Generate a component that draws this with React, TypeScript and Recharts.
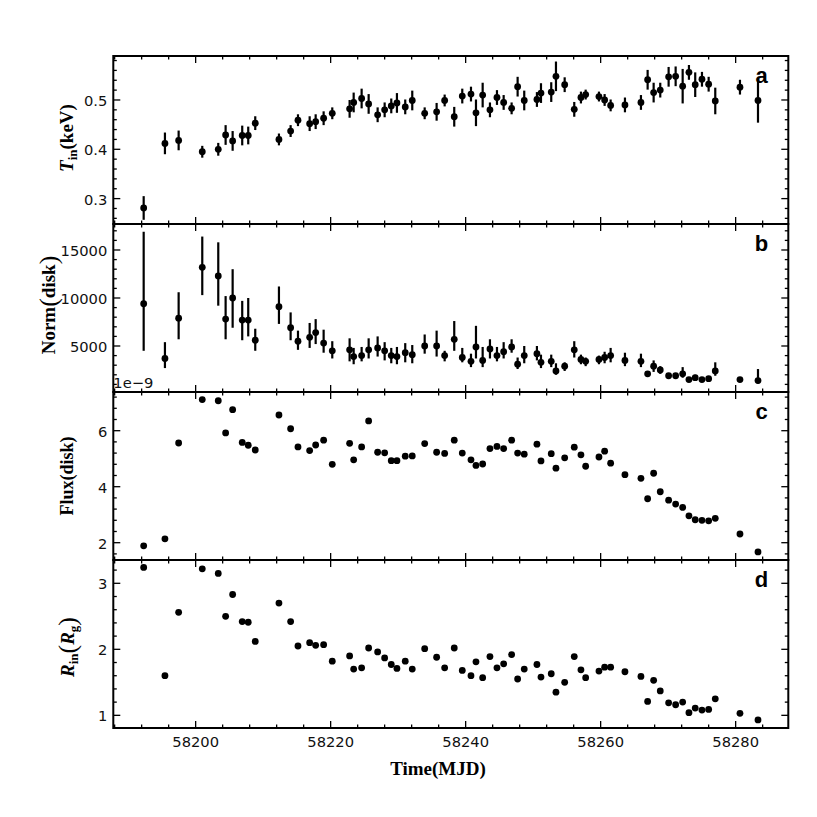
import React from 'react';
import { ScatterChart, Scatter, XAxis, YAxis, ErrorBar, ReferenceArea } from 'recharts';

// ---------------- data ----------------
const mjd = [
  58192.3, 58195.45, 58197.48, 58200.98, 58203.35, 58204.44, 58205.48, 58206.9, 58207.79, 58208.83,
  58212.34, 58214.07, 58215.16, 58216.89, 58217.78, 58218.96, 58220.24, 58222.81, 58223.41, 58224.59,
  58225.63, 58226.96, 58228.0, 58228.98, 58229.82, 58231.05, 58232.09, 58233.93, 58235.7, 58236.89,
  58238.31, 58239.5, 58240.79, 58241.53, 58242.52, 58243.6, 58244.64, 58245.63, 58246.81, 58247.7,
  58248.68, 58250.56, 58251.16, 58252.68, 58253.38, 58254.67, 58256.09, 58257.08, 58257.78, 58259.75,
  58260.59, 58261.48, 58263.6, 58265.97, 58266.96, 58267.85, 58268.83, 58270.07, 58271.11, 58272.15,
  58273.08, 58274.01, 58275.01, 58276.0, 58276.98, 58280.64, 58283.31,
];

const tin = [
  0.281, 0.412, 0.418, 0.395, 0.4, 0.429, 0.417, 0.428, 0.428, 0.453,
  0.42, 0.437, 0.459, 0.452, 0.456, 0.463, 0.473, 0.482, 0.495, 0.503,
  0.492, 0.47, 0.48, 0.488, 0.494, 0.486, 0.499, 0.473, 0.476, 0.499,
  0.466, 0.508, 0.512, 0.474, 0.51, 0.48, 0.505, 0.495, 0.483, 0.527,
  0.499, 0.501, 0.514, 0.516, 0.548, 0.531, 0.481, 0.505, 0.511, 0.507,
  0.5, 0.489, 0.49, 0.495, 0.541, 0.515, 0.52, 0.547, 0.548, 0.528,
  0.556, 0.531, 0.542, 0.532, 0.498, 0.526, 0.499,
];

const tinErr = [
  0.024, 0.022, 0.02, 0.012, 0.013, 0.02, 0.02, 0.02, 0.018, 0.014,
  0.012, 0.012, 0.012, 0.015, 0.015, 0.014, 0.012, 0.018, 0.02, 0.02,
  0.02, 0.015, 0.015, 0.015, 0.02, 0.015, 0.02, 0.012, 0.018, 0.012,
  0.02, 0.015, 0.015, 0.027, 0.025, 0.015, 0.015, 0.015, 0.012, 0.02,
  0.02, 0.015, 0.02, 0.02, 0.03, 0.015, 0.015, 0.012, 0.01, 0.01,
  0.012, 0.012, 0.015, 0.015, 0.02, 0.02, 0.015, 0.02, 0.02, 0.035,
  0.015, 0.025, 0.015, 0.015, 0.027, 0.015, 0.045,
];

const norm = [
  9400, 3700, 7900, 13200, 12300, 7800, 10000, 7700, 7700, 5600,
  9100, 6900, 5500, 5900, 6400, 5300, 4500, 4600, 3900, 4000,
  4600, 4800, 4500, 4000, 3900, 4300, 4100, 5000, 5000, 4000,
  5700, 3800, 3400, 4900, 3500, 4700, 4000, 4400, 4900, 3100,
  4000, 4200, 3300, 3400, 2400, 2900, 4600, 3600, 3400, 3600,
  3800, 4000, 3500, 3400, 2100, 2900, 2500, 1900, 1900, 2100,
  1500, 1700, 1500, 1600, 2400, 1500, 1400,
];

const normLo = [
  4500, 2700, 5700, 10300, 9200, 5700, 6900, 5600, 6000, 4500,
  7300, 5600, 4600, 4800, 5200, 4300, 3700, 3400, 3100, 3400,
  3700, 3900, 3500, 3200, 3100, 3300, 3200, 4200, 3900, 3400,
  4500, 3300, 2800, 3700, 2800, 3700, 3400, 3700, 4300, 2600,
  3200, 3500, 2700, 2800, 2000, 2400, 3800, 3100, 2900, 3100,
  3200, 3300, 2900, 2800, 1900, 2300, 2100, 1800, 1800, 1700,
  1400, 1500, 1400, 1500, 1900, 1500, 1100,
];

const normHi = [
  16900, 5400, 10600, 16400, 15800, 10200, 13000, 9700, 10000, 6800,
  11200, 8500, 6600, 7400, 7800, 6700, 5500, 5800, 4800, 4900,
  5800, 6000, 5400, 4800, 4900, 5300, 5100, 6200, 6600, 4500,
  7600, 4800, 4200, 7100, 4900, 5700, 4900, 5400, 5700, 3800,
  5000, 5000, 4100, 4100, 3200, 3300, 5500, 4100, 3800, 4000,
  4400, 4800, 4300, 4200, 2300, 3500, 2900, 2000, 2000, 2800,
  1600, 2000, 1600, 1700, 3300, 1500, 2600,
];

// disk flux in units of 1e-9
const flux = [
  1.89, 2.14, 5.56, 7.11, 7.07, 5.92, 6.75, 5.58, 5.48, 5.31,
  6.56, 6.07, 5.42, 5.29, 5.49, 5.66, 4.8, 5.55, 4.96, 5.42,
  6.35, 5.23, 5.21, 4.93, 4.93, 5.09, 5.1, 5.54, 5.23, 5.19,
  5.66, 5.2, 4.96, 4.76, 4.81, 5.36, 5.44, 5.36, 5.66, 5.2,
  5.16, 5.52, 4.92, 5.18, 4.66, 5.03, 5.41, 5.14, 4.73, 5.06,
  5.27, 4.84, 4.43, 4.3, 3.57, 4.48, 3.82, 3.52, 3.38, 3.26,
  2.96, 2.82, 2.8, 2.78, 2.87, 2.31, 1.67,
];

const rin = [
  3.24, 1.6, 2.56, 3.22, 3.15, 2.5, 2.83, 2.42, 2.41, 2.12,
  2.7, 2.42, 2.05, 2.1, 2.06, 2.07, 1.82, 1.9, 1.7, 1.72,
  2.02, 1.96, 1.87, 1.77, 1.71, 1.82, 1.7, 2.01, 1.88, 1.72,
  2.02, 1.68, 1.6, 1.81, 1.57, 1.89, 1.72, 1.78, 1.92, 1.55,
  1.7, 1.77, 1.58, 1.63, 1.35, 1.5, 1.89, 1.69, 1.57, 1.67,
  1.73, 1.73, 1.66, 1.59, 1.21, 1.53, 1.37, 1.19, 1.16, 1.2,
  1.04, 1.11, 1.08, 1.09, 1.25, 1.03, 0.93,
];

// ---------------- ticks ----------------
const xDomain: [number, number] = [58187.8, 58287.8];
const xMajor = [58200, 58220, 58240, 58260, 58280];
const xMajorLabels = ['58200', '58220', '58240', '58260', '58280'];
const xMinorStep = 4;

const tinDomain: [number, number] = [0.2485, 0.5892];
const tinMajor = [0.3, 0.4, 0.5];
const tinLabels = ['0.3', '0.4', '0.5'];
const tinMinorStep = 0.02;

const normDomain: [number, number] = [208, 17708];
const normMajor = [5000, 10000, 15000];
const normLabels = ['5000', '10000', '15000'];
const normMinorStep = 1000;

const fluxDomain: [number, number] = [1.382, 7.382];
const fluxMajor = [2, 4, 6];
const fluxLabels = ['2', '4', '6'];
const fluxMinorStep = 0.4;

const rinDomain: [number, number] = [0.808, 3.353];
const rinMajor = [1, 2, 3];
const rinLabels = ['1', '2', '3'];
const rinMinorStep = 0.2;

function tickRange(domain: [number, number], step: number): number[] {
  const out: number[] = [];
  const start = Math.ceil(domain[0] / step - 1e-9);
  const end = Math.floor(domain[1] / step + 1e-9);
  for (let k = start; k <= end; k++) out.push(Math.round(k * step * 1e6) / 1e6);
  return out;
}

// ---------------- layout ----------------
const FW = 817;
const PL = 113.3;
const PR = 788.3;
const PW = PR - PL;
const PH = 168;
const XH = 30;
const YW = 60;
const TICK_FONT = 'DejaVu Sans';
const TICK_FS = 14.7;
const SERIF = 'Liberation Serif';

const findMajor = (arr: number[], v: number) => arr.findIndex((m) => Math.abs(m - v) < 1e-6);

type PanelProps = {
  top: number;
  data: any[];
  yDomain: [number, number];
  yMajor: number[];
  yLabels: string[];
  yStep: number;
  showX: boolean;
  hasErr: boolean;
  letter: string;
  children?: React.ReactNode;
};

function Panel({ top, data, yDomain, yMajor, yLabels, yStep, showX, hasErr, letter, children }: PanelProps) {
  const bottom = top + PH;
  const xTicks = tickRange(xDomain, xMinorStep);
  const yTicks = tickRange(yDomain, yStep);

  const renderXTick = (p: any) => {
    const v = p.payload.value;
    const x = p.x;
    const mi = findMajor(xMajor, v);
    const len = mi >= 0 ? 7 : 3.5;
    return (
      <g key={`xt-${v}`}>
        <line x1={x} x2={x} y1={bottom} y2={bottom - len} stroke="#000" strokeWidth={1.3} />
        <line x1={x} x2={x} y1={top} y2={top + len} stroke="#000" strokeWidth={1.3} />
        {showX && mi >= 0 && (
          <text x={x} y={bottom + 18.7} textAnchor="middle" fontFamily={TICK_FONT} fontSize={TICK_FS} fill="#111">
            {xMajorLabels[mi]}
          </text>
        )}
      </g>
    );
  };

  const renderYTick = (p: any) => {
    const v = p.payload.value;
    const y = p.y;
    const mi = findMajor(yMajor, v);
    const len = mi >= 0 ? 7 : 3.5;
    return (
      <g key={`yt-${v}`}>
        <line x1={PL} x2={PL + len} y1={y} y2={y} stroke="#000" strokeWidth={1.3} />
        <line x1={PR} x2={PR - len} y1={y} y2={y} stroke="#000" strokeWidth={1.3} />
        {mi >= 0 && (
          <text x={107.3} y={y} dy="0.42em" textAnchor="end" fontFamily={TICK_FONT} fontSize={TICK_FS} fill="#111">
            {yLabels[mi]}
          </text>
        )}
      </g>
    );
  };

  return (
    <div style={{ position: 'absolute', left: 0, top: 0, width: FW, height: FW }}>
      <ScatterChart
        width={FW}
        height={FW}
        margin={{ top, bottom: FW - bottom - XH, left: PL - YW, right: FW - PR }}
      >
        <XAxis
          type="number"
          dataKey="x"
          domain={xDomain}
          ticks={xTicks}
          interval={0}
          allowDataOverflow
          axisLine={false}
          tickLine={false}
          tickSize={0}
          tickMargin={0}
          height={XH}
          tick={renderXTick}
        />
        <YAxis
          type="number"
          dataKey="y"
          domain={yDomain}
          ticks={yTicks}
          interval={0}
          allowDataOverflow
          axisLine={false}
          tickLine={false}
          tickSize={0}
          tickMargin={0}
          width={YW}
          tick={renderYTick}
        />
        <ReferenceArea
          x1={xDomain[0]}
          x2={xDomain[1]}
          y1={yDomain[0]}
          y2={yDomain[1]}
          fill="none"
          fillOpacity={0}
          stroke="#000"
          strokeWidth={2}
          strokeOpacity={1}
        />
        <Scatter
          data={data}
          isAnimationActive={false}
          shape={(p: any) => <circle cx={p.cx} cy={p.cy} r={3.4} fill="#000" />}
        >
          {hasErr && (
            <ErrorBar
              dataKey="err"
              direction="y"
              width={0}
              stroke="#000"
              strokeWidth={2.2}
              isAnimationActive={false}
            />
          )}
        </Scatter>
        <text
          x={761.5}
          y={top + 27}
          textAnchor="middle"
          fontFamily="Liberation Sans"
          fontWeight="bold"
          fontSize={22}
          fill="#000"
        >
          {letter}
        </text>
        {children}
      </ScatterChart>
    </div>
  );
}

const tinData = mjd.map((x, i) => ({ x, y: tin[i], err: tinErr[i] }));
const normData = mjd.map((x, i) => ({ x, y: norm[i], err: [norm[i] - normLo[i], normHi[i] - norm[i]] }));
const fluxData = mjd.map((x, i) => ({ x, y: flux[i] }));
const rinData = mjd.map((x, i) => ({ x, y: rin[i] }));

const labelStyle = { fontFamily: SERIF, fontWeight: 'bold' as const, fill: '#000' };

export default function App() {
  return (
    <div style={{ position: 'absolute', left: 0, top: 0, width: FW, height: FW, background: '#fff' }}>
      <Panel top={56} data={tinData} yDomain={tinDomain} yMajor={tinMajor} yLabels={tinLabels} yStep={tinMinorStep} showX={false} hasErr letter="a">
        <text transform="translate(73,138) rotate(-90)" textAnchor="middle" fontSize={19} {...labelStyle}>
          <tspan fontStyle="italic">T</tspan>
          <tspan fontSize={13} dy={4}>in</tspan>
          <tspan dy={-4}>(keV)</tspan>
        </text>
      </Panel>
      <Panel top={224} data={normData} yDomain={normDomain} yMajor={normMajor} yLabels={normLabels} yStep={normMinorStep} showX={false} hasErr letter="b">
        <text transform="translate(55,305) rotate(-90)" textAnchor="middle" fontSize={19} {...labelStyle}>
          Norm
          <tspan fontSize={26} fontWeight="normal" dy={2}>(</tspan>
          <tspan dy={-2}>disk</tspan>
          <tspan fontSize={26} fontWeight="normal" dy={2}>)</tspan>
        </text>
      </Panel>
      <Panel top={392} data={fluxData} yDomain={fluxDomain} yMajor={fluxMajor} yLabels={fluxLabels} yStep={fluxMinorStep} showX={false} hasErr={false} letter="c">
        <text x={113.3} y={388.3} fontFamily={TICK_FONT} fontSize={TICK_FS} fill="#111">1e−9</text>
        <text transform="translate(73,476) rotate(-90)" textAnchor="middle" fontSize={18} {...labelStyle}>
          Flux(disk)
        </text>
      </Panel>
      <Panel top={560} data={rinData} yDomain={rinDomain} yMajor={rinMajor} yLabels={rinLabels} yStep={rinMinorStep} showX hasErr={false} letter="d">
        <text transform="translate(74,647) rotate(-90)" textAnchor="middle" fontSize={19} {...labelStyle}>
          <tspan fontStyle="italic">R</tspan>
          <tspan fontSize={13} dy={4}>in</tspan>
          <tspan fontSize={26} fontWeight="normal" dy={-2}>(</tspan>
          <tspan fontStyle="italic" dy={-2}>R</tspan>
          <tspan fontSize={13} dy={4}>g</tspan>
          <tspan fontSize={26} fontWeight="normal" dy={-2}>)</tspan>
        </text>
        <text x={438} y={775} textAnchor="middle" fontSize={19} {...labelStyle}>
          Time(MJD)
        </text>
      </Panel>
    </div>
  );
}
